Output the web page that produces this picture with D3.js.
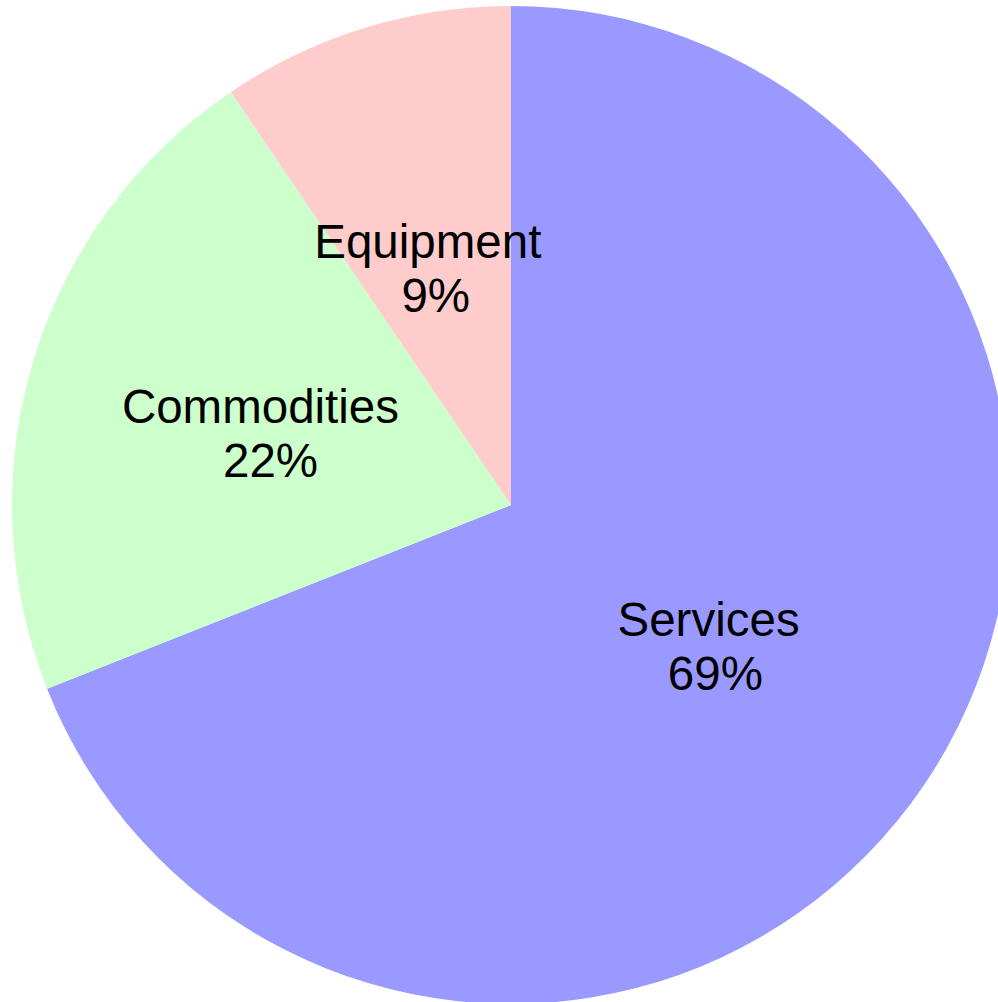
<!DOCTYPE html>
<html>
<head>
<meta charset="utf-8">
<script src="https://cdn.jsdelivr.net/npm/d3@7"></script>
<style>
  html, body { margin: 0; padding: 0; background: #ffffff; overflow: hidden; }
  svg { display: block; }
</style>
</head>
<body>
<svg id="chart" width="998" height="1002"></svg>
<script>
// Data
const categories = ["Services", "Commodities", "Equipment"];
const values = [69.0, 21.51, 9.49];
const colors = ["#9999ff", "#ccffcc", "#ffcccc"];

const width = 998, height = 1002;
const cx = 511, cy = 505, radius = 499;

const svg = d3.select("#chart");
const g = svg.append("g").attr("transform", `translate(${cx},${cy})`);

const data = categories.map((c, i) => ({ name: c, value: values[i], color: colors[i] }));
const total = d3.sum(values);

const pie = d3.pie().value(d => d.value).sort(null);
const arc = d3.arc().innerRadius(0).outerRadius(radius);

const arcs = pie(data);

g.selectAll("path.slice")
  .data(arcs)
  .join("path")
  .attr("class", "slice")
  .attr("d", arc)
  .attr("fill", d => d.data.color)
  .attr("stroke", "none");

const labels = g.selectAll("text.label")
  .data(arcs)
  .join("text")
  .attr("class", "label")
  .attr("font-family", "'Liberation Sans', Arial, sans-serif")
  .attr("font-size", 47.5)
  .attr("fill", "#000000")
  .attr("text-anchor", "middle")
  .attr("transform", d => {
    const [x, y] = arc.centroid(d);
    return `translate(${x},${y})`;
  });

labels.append("tspan")
  .attr("x", d => -d.data.name.length * 1.1)
  .attr("y", -9)
  .text(d => d.data.name);

labels.append("tspan")
  .attr("x", -2)
  .attr("y", 45)
  .text(d => Math.round(d.data.value / total * 100) + "%");
</script>
</body>
</html>
